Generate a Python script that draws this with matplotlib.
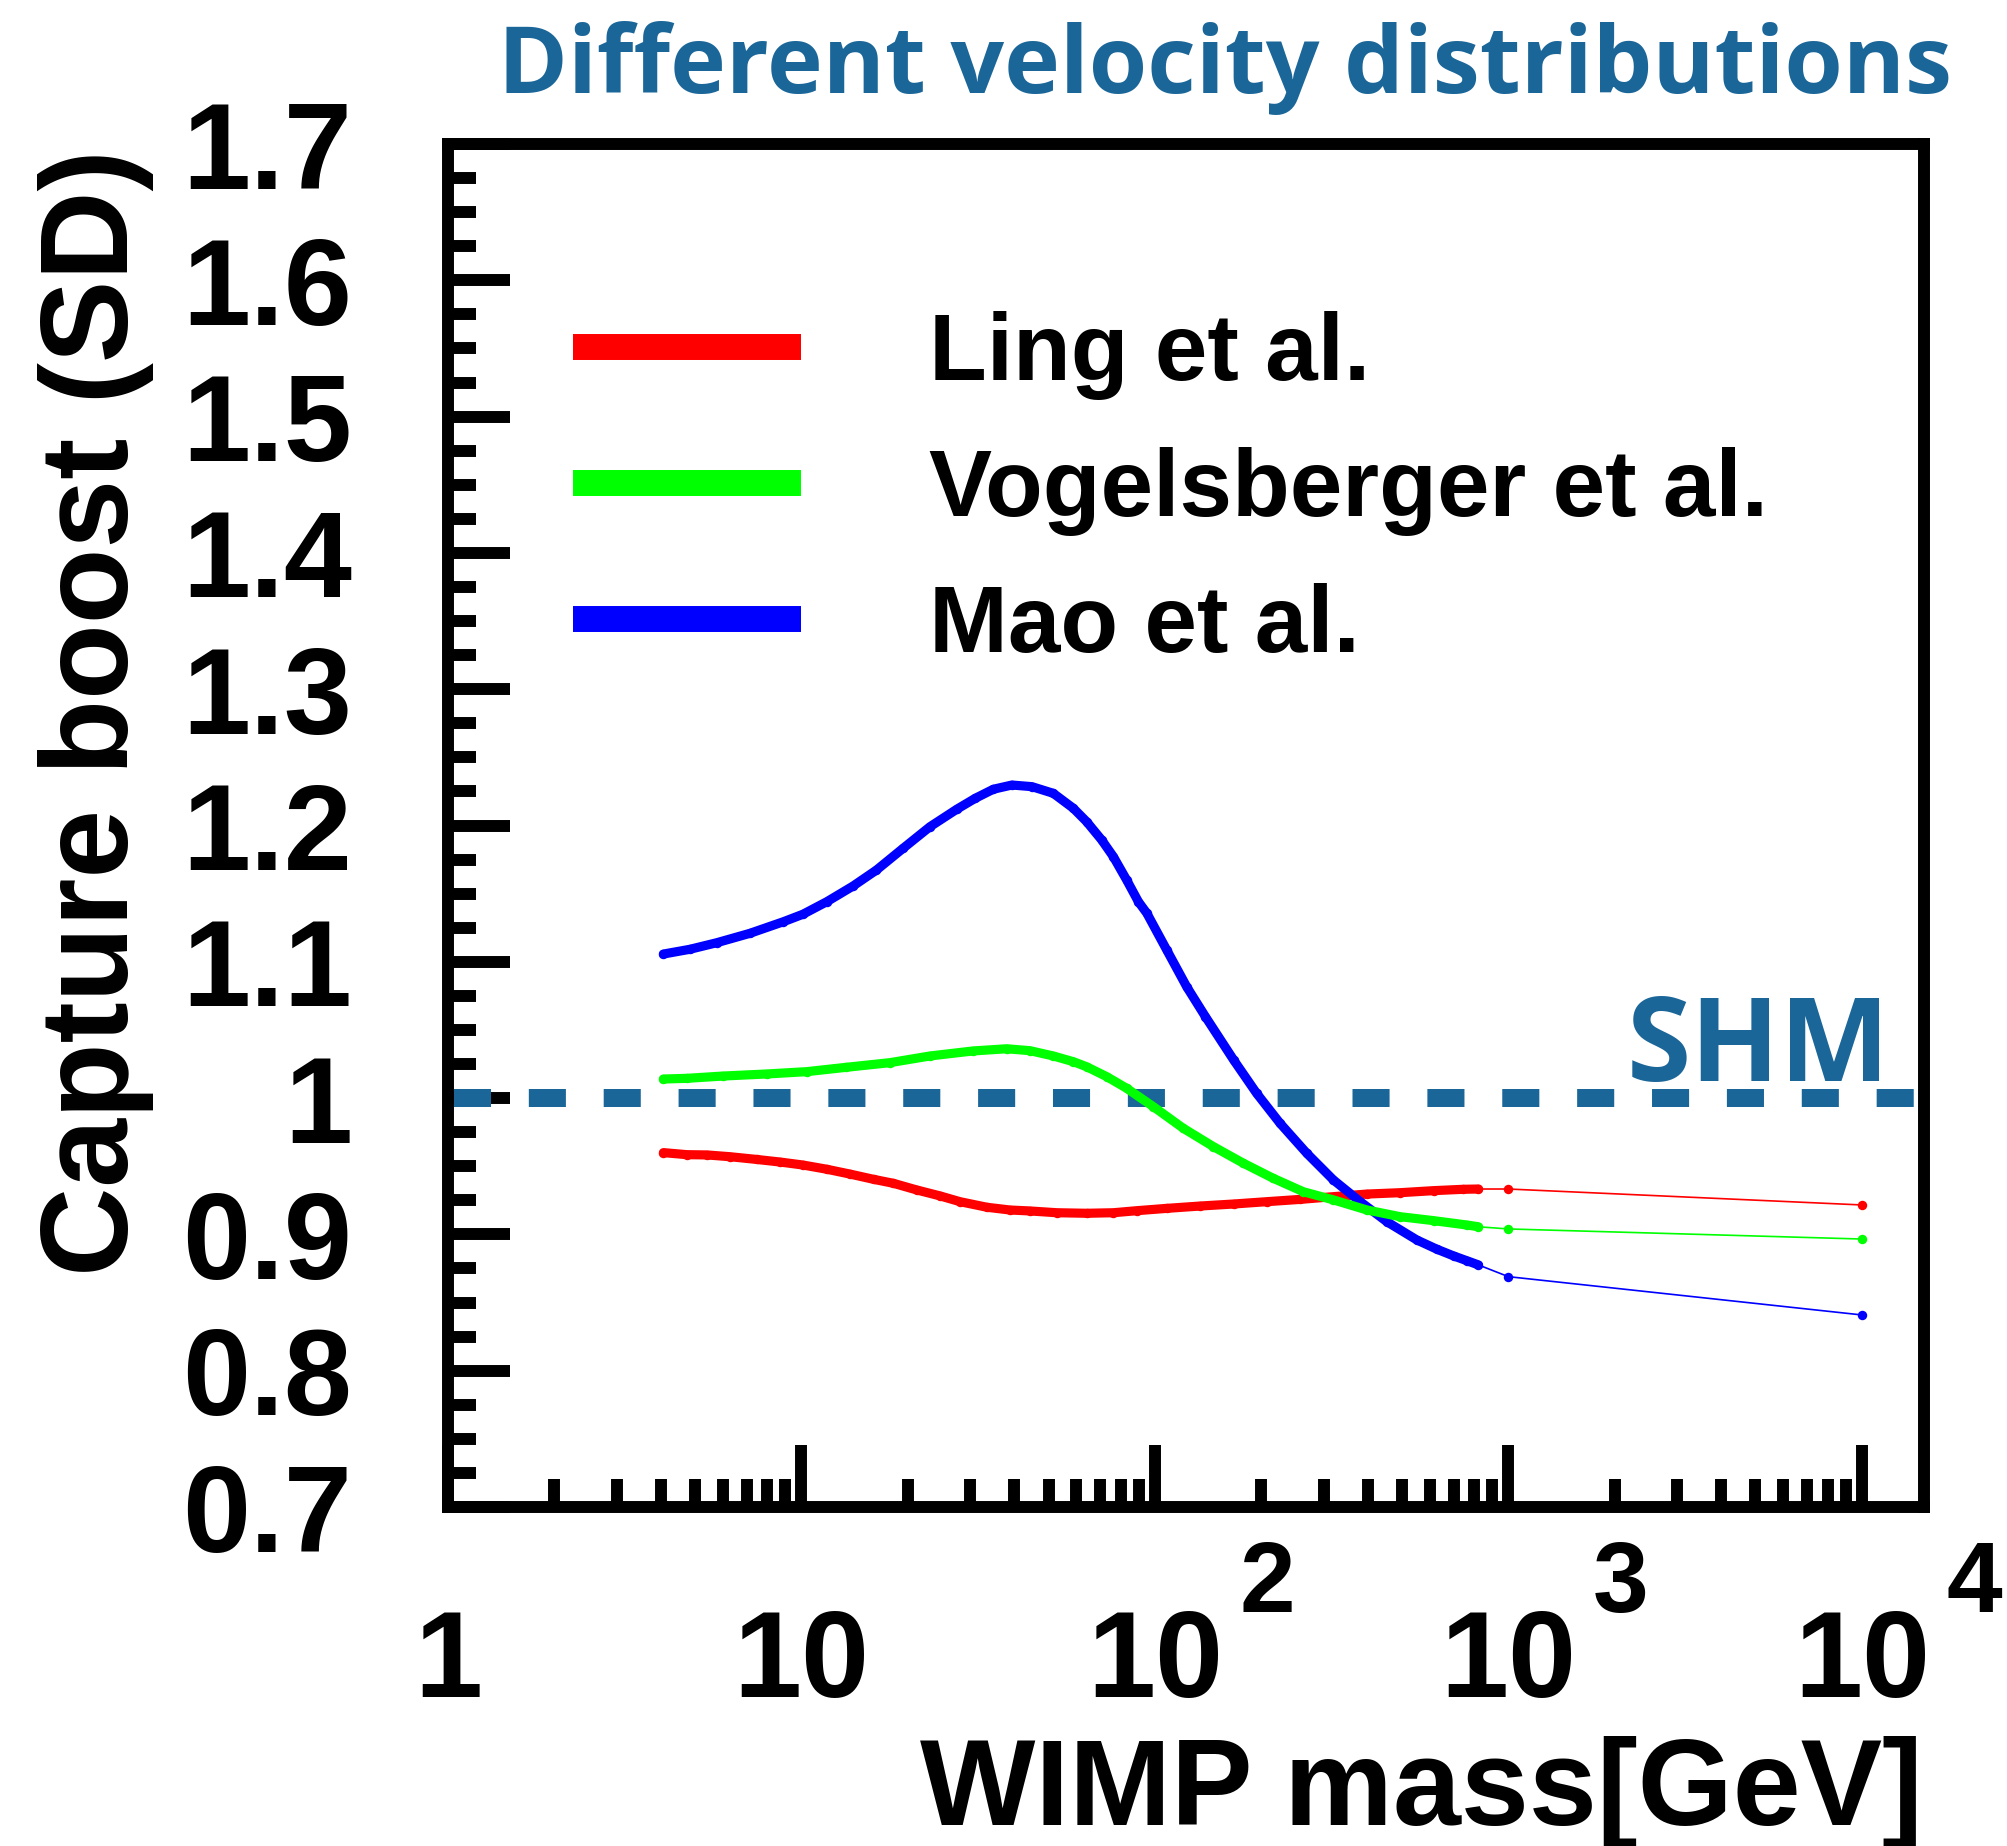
import numpy as np
import matplotlib
matplotlib.use("Agg")
import matplotlib.pyplot as plt
from matplotlib.lines import Line2D
from matplotlib.transforms import blended_transform_factory
from matplotlib.ticker import FixedLocator, FixedFormatter, LogLocator, NullFormatter

# capture boost vs WIMP mass for three halo velocity distributions
mass_ling = [4.07, 4.74, 5.40, 6.28, 7.47, 8.70, 10.1, 11.8, 13.7, 16.0, 18.2, 21.2,
             24.7, 28.1, 33.5, 38.9, 44.3, 52.8, 64.1, 76.3, 88.9, 108, 134, 167,
             207, 258, 320, 398, 494, 614, 746, 823, 1000, 10000]
boost_ling = [0.960, 0.9585, 0.9583, 0.957, 0.955, 0.9531, 0.9509, 0.9478, 0.9443,
              0.9404, 0.9375, 0.9326, 0.9282, 0.9240, 0.9199, 0.9179, 0.9172, 0.9159,
              0.9155, 0.9159, 0.9174, 0.9191, 0.9208, 0.9223, 0.9240, 0.9257, 0.9277,
              0.9296, 0.9306, 0.9321, 0.9331, 0.9333, 0.9333, 0.9216]

mass_vogel = [4.07, 4.74, 6.01, 7.98, 10.35, 13.4, 17.8, 23.1, 30.6, 38.1, 44.3, 51.6,
              58.8, 64.1, 73.1, 83.2, 99.0, 120.4, 146.4, 178, 216, 263, 320, 398,
              494, 614, 763, 823, 1000, 10000]
boost_vogel = [1.014, 1.0145, 1.0162, 1.0177, 1.0194, 1.0226, 1.0260, 1.0309, 1.0346,
               1.0362, 1.0348, 1.0309, 1.0267, 1.0230, 1.0157, 1.0072, 0.9937, 0.9778,
               0.9644, 0.9522, 0.9412, 0.9313, 0.9253, 0.9179, 0.9130, 0.9101, 0.9069,
               0.9056, 0.9040, 0.8966]

mass_mao = [4.07, 4.84, 5.76, 7.15, 8.89, 10.1, 11.8, 14.0, 16.3, 19.4, 23.1, 27.5,
            31.0, 34.9, 39.4, 44.9, 51.6, 58.8, 64.1, 70.7, 76.3, 83.2, 89.8, 94.9,
            108, 123, 139, 167, 194, 226, 269, 320, 381, 453, 551, 628, 700, 763,
            823, 1000, 10000]
boost_mao = [1.1057, 1.1092, 1.1140, 1.1209, 1.1294, 1.1349, 1.1441, 1.1556, 1.1673,
             1.1833, 1.1991, 1.2119, 1.2199, 1.2266, 1.2297, 1.2285, 1.2236, 1.2126,
             1.2028, 1.1894, 1.1771, 1.1600, 1.1441, 1.1356, 1.1087, 1.0817, 1.0597,
             1.0280, 1.0035, 0.9815, 0.9595, 0.9399, 0.9240, 0.9093, 0.8959, 0.8891,
             0.8842, 0.8807, 0.8776, 0.8690, 0.8409]

series = [
    ("Ling et al.", mass_ling, boost_ling, "#ff0000"),
    ("Vogelsberger et al.", mass_vogel, boost_vogel, "#00ff00"),
    ("Mao et al.", mass_mao, boost_mao, "#0000ff"),
]
draw_order = [0, 2, 1]

shm_level = 1.0
x_major = [1, 10, 100, 1000, 10000]
x_major_labels = ["1", "10", "10", "10", "10"]
x_exponents = [None, None, 2, 3, 4]
y_major = [0.7, 0.8, 0.9, 1.0, 1.1, 1.2, 1.3, 1.4, 1.5, 1.6, 1.7]

BLUE = "#1b6699"
SANS = "Liberation Sans"
TITLE_FONT = "Open Sans"

fig = plt.figure(figsize=(20.07, 18.46), dpi=100)
ax = fig.add_axes([0.2232, 0.18364, 0.7355, 0.73835])
ax.set_xscale("log")
ax.set_xlim(1, 1.5e4)
ax.set_ylim(0.7, 1.7)

# SHM reference level
ax.axhline(shm_level, color=BLUE, lw=12.96, linestyle=(3.83, (2.06, 2.1)), zorder=2)

for i in draw_order:
    name, m, b, c = series[i]
    ax.plot(m, b, color=c, lw=1.2, marker="o", ms=6.8, mew=0, zorder=3)
    ax.plot(m[:-2], b[:-2], color=c, lw=6.6, solid_capstyle="round", zorder=3)

# axes frame and ticks
for sp in ax.spines.values():
    sp.set_linewidth(8.6)
    sp.set_capstyle("projecting")

ax.xaxis.set_major_locator(FixedLocator(x_major))
ax.xaxis.set_major_formatter(FixedFormatter(x_major_labels))
ax.xaxis.set_minor_locator(LogLocator(base=10, subs=np.arange(2, 10), numticks=20))
ax.xaxis.set_minor_formatter(NullFormatter())
ax.yaxis.set_major_locator(FixedLocator(y_major))
ax.yaxis.set_major_formatter(FixedFormatter([f"{v:g}" for v in y_major]))
ax.yaxis.set_minor_locator(FixedLocator(np.arange(0.7, 1.7001, 0.025)))

ax.tick_params(which="both", direction="in", top=False, right=False,
               width=8.6, color="black")
ax.tick_params(which="major", length=44.6)
ax.tick_params(which="minor", length=20)
ax.tick_params(axis="x", which="major", pad=73)
ax.tick_params(axis="y", which="major", pad=69)
for lab in ax.get_xticklabels() + ax.get_yticklabels():
    lab.set_fontfamily(SANS)
    lab.set_fontweight("bold")
    lab.set_fontsize(88)

# powers of ten above the "10" tick labels
tr = blended_transform_factory(ax.transData, ax.transAxes)
for xv, ex in zip(x_major, x_exponents):
    if ex is None:
        continue
    ax.text(xv * 2.075, -0.077, str(ex), transform=tr, ha="center", va="baseline",
            fontsize=72, fontweight="bold", family=SANS, clip_on=False)

ax.set_xlabel("WIMP mass[GeV]", loc="right", fontsize=88, fontweight="bold",
              family=SANS)
ax.xaxis.set_label_coords(0.999, -0.168)
ax.set_ylabel("Capture boost (SD)", loc="top", fontsize=89, fontweight="bold",
              family=SANS)
ax.yaxis.set_label_coords(-0.1992, 0.996)

handles = [Line2D([], [], color=c, lw=18.7, solid_capstyle="butt")
           for _, _, _, c in series]
labels = [name for name, _, _, _ in series]
ax.legend(handles, labels, loc="upper left", bbox_to_anchor=(0.0845, 0.8775),
          frameon=False, borderpad=0, borderaxespad=0, handlelength=2.415,
          handletextpad=1.36, labelspacing=0.5,
          prop={"family": SANS, "weight": "bold", "size": 68})

ax.text(0.9770, 0.3125, "SHM", transform=ax.transAxes, ha="right", va="baseline",
        fontsize=84, fontweight="bold", family=TITLE_FONT, color=BLUE)

fig.text(0.9726, 0.9495, "Different velocity distributions", ha="right",
         va="baseline", fontsize=68, fontweight="bold", family=TITLE_FONT, color=BLUE)

fig.savefig("out.png", dpi=100)
